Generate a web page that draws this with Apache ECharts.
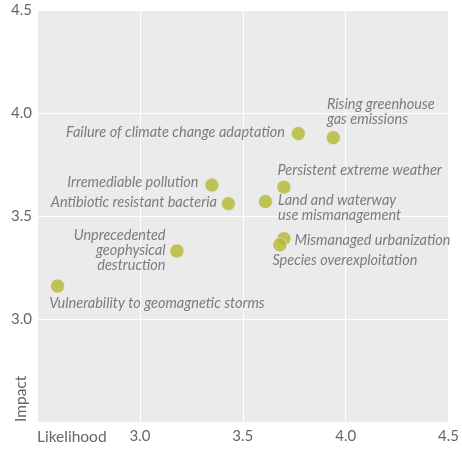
<!DOCTYPE html>
<html>
<head>
<meta charset="utf-8">
<style>
  html, body { margin: 0; padding: 0; background: #ffffff; }
  #chart { width: 462px; height: 449px; }
</style>
<script src="https://cdn.jsdelivr.net/npm/echarts@6/dist/echarts.min.js"></script>
</head>
<body>
<div id="chart"></div>
<script>
// Global risks: likelihood vs. impact
const riskNames = [
  'Failure of climate change adaptation',
  'Rising greenhouse\ngas emissions',
  'Persistent extreme weather',
  'Land and waterway\nuse mismanagement',
  'Mismanaged urbanization',
  'Species overexploitation',
  'Irremediable pollution',
  'Antibiotic resistant bacteria',
  'Unprecedented\ngeophysical\ndestruction',
  'Vulnerability to geomagnetic storms'
];
const likelihood = [3.77, 3.94, 3.70, 3.61, 3.70, 3.68, 3.35, 3.43, 3.18, 2.60];
const impact     = [3.90, 3.88, 3.64, 3.57, 3.39, 3.36, 3.65, 3.56, 3.33, 3.16];

const xTicks = [3.0, 3.5, 4.0, 4.5];
const yTicks = [3.0, 3.5, 4.0, 4.5];

// Label placement around each marker: [align, verticalAlign, dx, dy] from the marker centre
const labelPlacement = [
  ['right', 'middle', -13, -1],
  ['left', 'bottom', -6, -10],
  ['left', 'middle', -6, -16],
  ['left', 'top', 13, -8],
  ['left', 'middle', 11, 2],
  ['left', 'middle', -7, 16],
  ['right', 'middle', -13, -2],
  ['right', 'middle', -11, -1],
  ['right', 'middle', -11, 0],
  ['left', 'middle', -8, 18]
];

const SYMBOL = 14;
const FONT = 'Lato, "Open Sans", sans-serif';
const TEXT_GREY = '#606060';

const points = riskNames.map((name, i) => {
  const p = labelPlacement[i];
  return {
    name: name,
    value: [likelihood[i], impact[i]],
    label: {
      show: true,
      // array position is measured from the marker's top-left corner
      position: [SYMBOL / 2 + p[2], SYMBOL / 2 + p[3]],
      formatter: name,
      align: p[0],
      verticalAlign: p[1],
      color: TEXT_GREY,
      fontFamily: FONT,
      fontStyle: 'italic',
      fontSize: 14.5,
      lineHeight: 15
    }
  };
});

const fmtTick = ticks => v => {
  const hit = ticks.find(t => Math.abs(t - v) < 1e-9);
  return hit === undefined ? '' : hit.toFixed(1);
};

const chart = echarts.init(document.getElementById('chart'), null, { renderer: 'canvas' });
chart.setOption({
  animation: false,
  backgroundColor: '#ffffff',
  grid: {
    left: 37, right: 11, top: 10, bottom: 27,
    show: true, backgroundColor: '#ebebeb', borderWidth: 0
  },
  xAxis: {
    type: 'value', min: 2.5, max: 4.5, interval: 0.5,
    axisLine: { show: false }, axisTick: { show: false },
    splitLine: { show: true, lineStyle: { color: '#ffffff', width: 1 } },
    axisLabel: {
      formatter: fmtTick(xTicks), color: '#666666', fontFamily: FONT,
      fontSize: 15, margin: 7
    }
  },
  yAxis: {
    type: 'value', min: 2.5, max: 4.5, interval: 0.5,
    axisLine: { show: false }, axisTick: { show: false },
    splitLine: { show: true, lineStyle: { color: '#ffffff', width: 1 } },
    axisLabel: {
      formatter: fmtTick(yTicks), color: '#666666', fontFamily: FONT,
      fontSize: 15, margin: 5
    }
  },
  graphic: [
    {
      type: 'text', left: 37, top: 429,
      style: { text: 'Likelihood', fill: '#666666', font: '15.5px ' + FONT }
    },
    {
      type: 'text', x: 21, y: 422, rotation: Math.PI / 2,
      style: {
        text: 'Impact', fill: '#666666', font: '15.5px ' + FONT,
        align: 'left', verticalAlign: 'middle'
      }
    }
  ],
  series: [{
    type: 'scatter',
    symbol: 'circle',
    symbolSize: SYMBOL,
    itemStyle: { color: '#b4b82f', borderColor: '#ebebeb', borderWidth: 0.8 },
    data: points
  }]
});
</script>
</body>
</html>
